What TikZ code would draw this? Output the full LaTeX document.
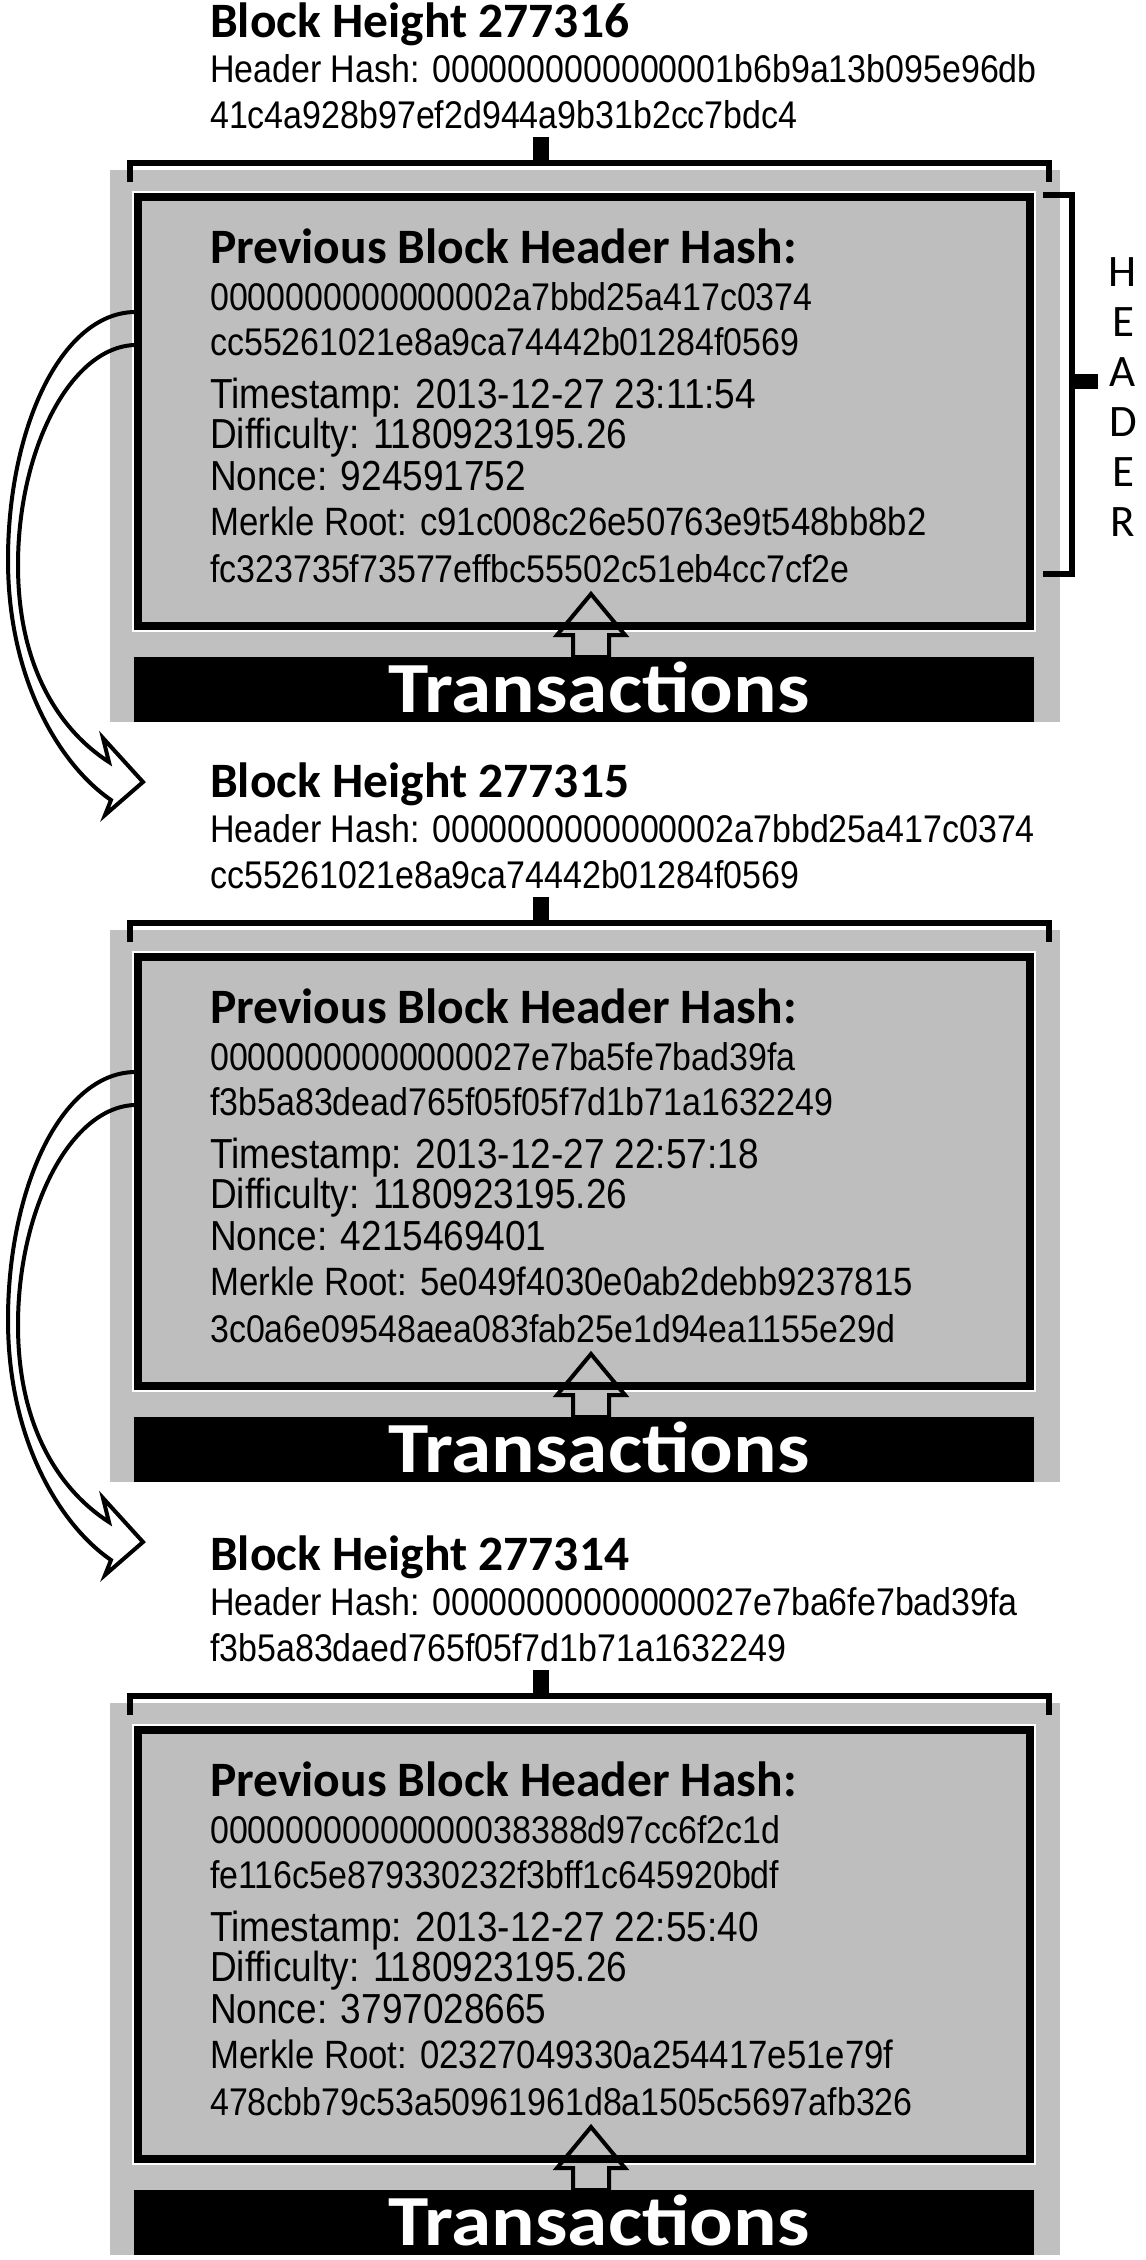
\documentclass[tikz,border=0pt]{standalone}
\usepackage{fontspec}
\setmainfont{Liberation Sans}
\newfontfamily\narrowsans[FakeStretch=0.88]{Liberation Sans}
\newfontfamily\carlito{Carlito}
\usetikzlibrary{calc}

\definecolor{panelgray}{RGB}{192,192,192}
\definecolor{boxgray}{RGB}{190,190,190}

\newcommand\hexfont{\narrowsans\fontsize{38.6}{40}\selectfont}
\newcommand\fieldfont{\narrowsans\fontsize{42}{44}\selectfont}
\newcommand\merklefont{\narrowsans\fontsize{39.5}{42}\selectfont}
\newcommand\titlefont{\carlito\bfseries\fontsize{49.5}{52}\selectfont}
\newcommand\txfont{\carlito\bfseries\fontsize{72}{80}\selectfont}
\newcommand\sidefont{\carlito\fontsize{45}{45}\selectfont}

\tikzset{
  txt/.style={anchor=base west, inner sep=0pt, font=\hexfont},
  fld/.style={anchor=base west, inner sep=0pt, font=\fieldfont},
  mrk/.style={anchor=base west, inner sep=0pt, font=\merklefont},
  ttl/.style={anchor=base west, inner sep=0pt, font=\titlefont},
  hdrbox/.style={draw=black, line width=8pt, fill=boxgray, outer sep=0pt,
    minimum width=892pt, minimum height=429pt, anchor=north west, inner sep=0pt},
  txbar/.style={fill=black, outer sep=0pt, minimum width=900pt, minimum height=65pt,
    anchor=north west, inner sep=0pt},
  txlabel/.style={anchor=base, inner sep=0pt, text=white, font=\txfont},
  brk/.style={line width=5.5pt, line cap=butt, line join=miter},
  uparrow/.style={draw=black, fill=panelgray, line width=4pt, line join=miter},
  hollow/.style={draw=black, line width=4pt, line join=miter},
  letter/.style={inner sep=0pt, font=\sidefont},
}

% one block: #1 height, #2-#3 header hash, #4-#5 previous hash,
% #6 timestamp, #7 nonce, #8-#9 merkle root
\newcommand\chainblock[9]{%
  \fill[panelgray] (110,170) rectangle (1060,722);
  \node[hdrbox] (box#1) at (138,197) {};
  \draw[white, line width=2pt] (133,192) rectangle (1035,631);
  \draw[uparrow] (591,594) -- (625,635) -- (609,635) -- (609,657)
    -- (573,657) -- (573,635) -- (557,635) -- cycle;
  \draw[line width=8pt] (134,626) -- (1034,626);
  \node[txbar] (bar#1) at (134,657) {};
  \node[txlabel] (tx#1) at (599,712) {\scalebox{1.13}[1]{Transactions}};
  % bracket grouping the block under its hash
  \draw[brk] (130,182) -- (130,163) -- (1049,163) -- (1049,182);
  \fill (533,137) rectangle (549,163);
  % block identity
  \node[ttl] (title#1) at (210,37) {Block Height #1};
  \node[txt] (hh#1) at (210,82) {Header Hash: #2};
  \node[txt] (hhb#1) at (210,128) {#3};
  % header fields
  \node[ttl] (prev#1) at (210,263) {Previous Block Header Hash:};
  \node[txt] (pa#1) at (210,310) {#4};
  \node[txt] (pb#1) at (210,355) {#5};
  \node[fld] (ts#1) at (210,408) {Timestamp: #6};
  \node[fld] (df#1) at (210,448) {Difficulty: 1180923195.26};
  \node[fld] (nc#1) at (210,490) {Nonce: #7};
  \node[mrk] (mr#1) at (210,535) {Merkle Root: #8};
  \node[txt] (mrb#1) at (210,582) {#9};
  \coordinate (outA#1) at (134,312);
  \coordinate (outB#1) at (134,345);
}

% wide curved arrow from one header down to the block before it
\newcommand\chainarrow[1]{%
  \draw[hollow] (outA#1) .. controls (60,314) and (8,430) .. (8,560)
    .. controls (8,680) and (60,765) .. (111,800)
    -- (105,815) -- (143,782) -- (103,738) -- (109,762)
    .. controls (62,732) and (18,670) .. (18,565)
    .. controls (18,450) and (70,348) .. (outB#1);
}

\begin{document}
\begin{tikzpicture}[x=1pt,y=-1pt]
\useasboundingbox (0,0) rectangle (1146,2260);
\fill[white] (0,0) rectangle (1146,2260);

\chainblock{277316}{0000000000000001b6b9a13b095e96db}{41c4a928b97ef2d944a9b31b2cc7bdc4}%
  {0000000000000002a7bbd25a417c0374}{cc55261021e8a9ca74442b01284f0569}%
  {2013-12-27 23:11:54}{924591752}%
  {c91c008c26e50763e9t548bb8b2}{fc323735f73577effbc55502c51eb4cc7cf2e}
\chainarrow{277316}

% header bracket
\draw[brk] (1043,195) -- (1072,195) -- (1072,574) -- (1043,574);
\fill (1072,374) rectangle (1098,389);
\foreach \ch [count=\k from 0] in {H,E,A,D,E,R}
  \node[letter] (side\k) at (1123,272+50*\k) {\ch};

\begin{scope}[yshift=-760pt]
\chainblock{277315}{0000000000000002a7bbd25a417c0374}{cc55261021e8a9ca74442b01284f0569}%
  {00000000000000027e7ba5fe7bad39fa}{f3b5a83dead765f05f05f7d1b71a1632249}%
  {2013-12-27 22:57:18}{4215469401}%
  {5e049f4030e0ab2debb9237815}{3c0a6e09548aea083fab25e1d94ea1155e29d}
\chainarrow{277315}
\end{scope}

\begin{scope}[yshift=-1533pt]
\chainblock{277314}{00000000000000027e7ba6fe7bad39fa}{f3b5a83daed765f05f7d1b71a1632249}%
  {00000000000000038388d97cc6f2c1d}{fe116c5e879330232f3bff1c645920bdf}%
  {2013-12-27 22:55:40}{3797028665}%
  {02327049330a254417e51e79f}{478cbb79c53a50961961d8a1505c5697afb326}
\end{scope}
\end{tikzpicture}
\end{document}
